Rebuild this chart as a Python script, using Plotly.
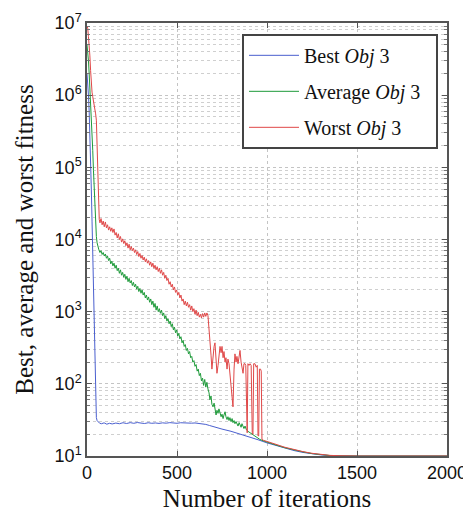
import plotly.graph_objects as go

# ---------------- data ----------------
best_it = [0, 4, 8, 12, 16, 20, 24, 28, 32, 36, 40, 44, 48, 52, 56, 62, 70, 80, 95, 110, 125, 140, 160, 180, 200,
           220, 240, 260, 280, 300, 320, 340, 360, 380, 400, 420, 440, 460, 480, 500, 520, 540, 560, 580, 600,
           620, 640, 660, 680, 700, 750, 800, 850, 900, 950, 1000, 1050, 1100, 1150, 1200, 1250, 1300, 1350,
           1400, 1500, 2000]
best_val = [2.0e6, 1.5e6, 1.0e6, 6.0e5, 3.0e5, 1.2e5, 5.0e4, 1.8e4, 6.0e3, 1.8e3, 5.0e2, 1.2e2, 4.8e1, 3.4e1,
            3.1e1, 3.0e1, 2.85e1, 2.8e1, 2.88e1, 2.76e1, 2.84e1, 2.78e1, 2.86e1, 2.8e1, 2.89e1,
            2.82e1, 2.9e1, 2.84e1, 2.91e1, 2.86e1, 2.82e1, 2.89e1, 2.84e1, 2.87e1, 2.83e1, 2.88e1, 2.85e1,
            2.9e1, 2.86e1, 2.84e1, 2.89e1, 2.86e1, 2.88e1, 2.85e1, 2.87e1,
            2.84e1, 2.8e1, 2.74e1, 2.65e1, 2.55e1, 2.36e1, 2.2e1, 2.02e1, 1.85e1, 1.68e1, 1.52e1, 1.39e1,
            1.28e1, 1.19e1, 1.12e1, 1.07e1, 1.035e1, 1.012e1, 1.004e1, 1.0e1, 1.0e1]

avg_it = [0, 4, 8, 12, 16, 20, 24, 28, 32, 36, 40, 44, 48, 52, 56, 60, 66, 72, 78, 84, 90, 96, 102, 108, 114,
          120, 126, 132, 138, 144, 150, 156, 162, 168, 174, 180, 186, 192, 198, 204, 210, 216, 222, 228, 234,
          240, 246, 252, 258, 264, 270, 276, 282, 288, 294, 300, 306, 312, 318, 324, 330, 336, 342, 348, 354,
          360, 366, 372, 378, 384, 390, 396, 402, 408, 414, 420, 426, 432, 438, 444, 450, 456, 462, 468, 474,
          480, 486, 492, 498, 504, 510, 516, 522, 528, 534, 540, 546, 552, 558, 564, 570, 576, 582, 588, 594,
          600, 606, 612, 618, 624, 630, 636, 642, 648, 654, 660, 666, 672, 678, 683, 689, 694, 700, 706, 711,
          717, 722, 728, 733, 739, 745, 750, 756, 761, 767, 772, 778, 783, 789, 794, 800, 806, 811, 817, 822,
          828, 833, 839, 845, 850, 856, 861, 867, 872, 878, 886, 894, 900, 906, 920, 940, 960, 980, 1000,
          1050, 1100, 1150, 1200, 1250, 1300, 1350, 1400, 1500, 2000]
avg_val = [5.0e6, 4.2e6, 3.0e6, 2.0e6, 1.3e6, 8.0e5, 5.0e5, 3.0e5, 1.7e5, 9.0e4, 5.0e4, 2.8e4, 1.6e4, 1.1e4,
           9.0e3, 8.0e3, 7.2e3, 6.6e3, 7.0e3, 6.2e3, 6.6e3, 5.9e3, 6.3e3, 5.5e3, 5.9e3,
           5.1e3, 5.5e3, 4.6e3, 5.0e3, 4.3e3, 4.7e3, 4.0e3, 4.4e3, 3.7e3, 4.0e3, 3.4e3, 3.8e3, 3.2e3, 3.5e3,
           3.0e3, 3.3e3, 2.8e3, 3.1e3, 2.6e3, 2.9e3,
           2.5e3, 2.7e3, 2.3e3, 2.55e3, 2.2e3, 2.4e3, 2.05e3, 2.25e3, 1.9e3, 2.1e3, 1.8e3, 2.0e3, 1.7e3,
           1.85e3, 1.55e3, 1.7e3, 1.45e3, 1.6e3, 1.35e3, 1.5e3,
           1.25e3, 1.4e3, 1.15e3, 1.3e3, 1.05e3, 1.2e3, 1.0e3, 1.1e3, 9.5e2, 1.05e3, 8.8e2, 9.6e2, 8.0e2,
           8.8e2, 7.4e2, 8.0e2, 6.8e2, 7.4e2, 6.2e2, 6.8e2,
           5.6e2, 6.1e2, 5.1e2, 5.6e2, 4.6e2, 5.0e2, 4.2e2, 4.5e2, 3.7e2, 4.0e2, 3.3e2, 3.5e2, 2.9e2, 3.1e2,
           2.6e2, 2.8e2, 2.3e2, 2.4e2, 2.0e2, 2.1e2,
           1.75e2, 1.85e2, 1.5e2, 1.6e2, 1.3e2, 1.4e2, 1.1e2, 1.2e2, 9.5e1, 1.15e2, 9.0e1, 1.05e2, 8.5e1,
           7.5e1, 6.0e1, 6.8e1, 5.2e1, 4.8e1, 5.4e1, 4.2e1,
           3.7e1, 4.3e1, 3.9e1, 4.5e1, 4.0e1, 3.5e1, 3.8e1, 3.3e1, 3.7e1, 4.1e1, 3.5e1, 3.2e1, 3.5e1, 3.1e1,
           3.4e1, 3.0e1, 3.3e1, 2.9e1, 3.1e1, 2.8e1,
           3.0e1, 2.7e1, 2.6e1, 2.9e1, 2.6e1, 2.5e1, 2.8e1, 2.5e1, 2.4e1, 2.6e1, 2.3e1, 2.2e1, 2.15e1, 2.1e1,
           1.98e1, 1.83e1, 1.7e1, 1.62e1, 1.55e1,
           1.42e1, 1.3e1, 1.21e1, 1.14e1, 1.08e1, 1.04e1, 1.015e1, 1.005e1, 1.0e1, 1.0e1]

worst_it = [0, 4, 8, 12, 16, 20, 24, 28, 32, 36, 40, 44, 48, 52, 56, 60, 64, 68, 72, 78, 84, 90, 96, 102, 108,
            114, 120, 126, 132, 138, 144, 150, 156, 162, 168, 174, 180, 186, 192, 198, 204, 210, 216, 222, 228,
            234, 240, 246, 252, 258, 264, 270, 276, 282, 288, 294, 300, 306, 312, 318, 324, 330, 336, 342, 348,
            354, 360, 366, 372, 378, 384, 390, 396, 402, 408, 414, 420, 426, 432, 438, 444, 450, 456, 462, 468,
            474, 480, 486, 492, 498, 504, 510, 516, 522, 528, 534, 540, 546, 552, 558, 564, 570, 576, 582, 588,
            594, 600, 606, 612, 618, 624, 630, 636, 642, 648, 654, 660, 666, 672, 678, 683, 689, 694, 700, 706,
            711, 717, 722, 728, 733, 739, 745, 750, 756, 761, 767, 772, 778, 783, 789, 794, 800, 806, 811, 817,
            822, 828, 833, 839, 845, 850, 856, 861, 867, 872, 878, 882, 886, 890, 894, 900, 906, 912, 918, 922,
            926, 933, 940, 946, 950, 954, 958, 964, 968, 972, 980, 1000, 1050, 1100, 1150, 1200, 1250, 1300,
            1350, 1400, 1500, 2000]
worst_val = [9.0e6, 8.5e6, 6.5e6, 5.0e6, 3.5e6, 2.2e6, 1.3e6, 1.1e6, 9.5e5, 8.5e5, 7.5e5, 6.5e5, 5.5e5, 4.5e5,
             2.0e5, 6.0e4, 2.5e4, 1.9e4, 1.7e4, 1.95e4, 1.6e4, 1.8e4, 1.5e4, 1.75e4, 1.45e4,
             1.6e4, 1.35e4, 1.5e4, 1.3e4, 1.45e4, 1.25e4, 1.4e4, 1.15e4, 1.25e4, 1.05e4, 1.2e4, 1.0e4, 1.1e4,
             9.2e3, 1.02e4, 8.8e3, 9.6e3, 8.2e3, 9.0e3, 7.6e3,
             8.6e3, 7.2e3, 8.0e3, 7.0e3, 7.6e3, 6.6e3, 7.2e3, 6.2e3, 6.8e3, 5.8e3, 6.4e3, 5.5e3, 6.0e3, 5.2e3,
             5.7e3, 4.9e3, 5.4e3, 4.7e3, 5.1e3, 4.4e3,
             4.9e3, 4.2e3, 4.7e3, 4.0e3, 4.4e3, 3.8e3, 4.2e3, 3.6e3, 4.0e3, 3.4e3, 3.8e3, 3.2e3, 3.5e3, 2.9e3,
             3.2e3, 2.7e3, 2.9e3, 2.4e3, 2.6e3, 2.2e3,
             2.4e3, 2.0e3, 2.2e3, 1.85e3, 2.0e3, 1.7e3, 1.85e3, 1.55e3, 1.7e3, 1.4e3, 1.5e3, 1.25e3, 1.4e3,
             1.2e3, 1.35e3, 1.15e3, 1.25e3, 1.05e3, 1.2e3, 1.0e3,
             1.1e3, 9.2e2, 1.05e3, 8.8e2, 9.8e2, 8.4e2, 9.2e2, 8.2e2, 9.4e2, 8.4e2, 9.6e2, 8.6e2, 9.6e2, 8.8e2,
             6.0e2, 3.7e2, 2.5e2, 1.6e2, 2.6e2, 3.3e2,
             3.7e2, 2.2e2, 1.4e2, 1.8e2, 2.6e2, 3.3e2, 2.7e2, 3.3e2, 2.3e2, 2.8e2, 2.0e2, 2.3e2, 1.6e2, 2.2e2,
             1.9e2, 1.4e2, 1.07e2, 7.0e1, 4.8e1, 1.6e2,
             2.6e2, 2.0e2, 2.4e2, 1.9e2, 2.4e2, 2.9e2, 2.0e2, 1.6e2, 1.4e2, 1.9e2, 1.9e2, 1.8e2, 2.1e1, 2.1e1,
             1.9e2, 1.8e2, 1.9e2, 1.8e2, 2.1e1, 2.0e1,
             1.9e2, 1.9e2, 1.7e2, 1.8e2, 1.9e1, 1.9e1, 1.6e2, 1.6e2, 1.5e2, 1.7e1, 1.65e1, 1.58e1, 1.45e1,
             1.32e1, 1.22e1, 1.15e1, 1.09e1, 1.05e1,
             1.02e1, 1.01e1, 1.0e1, 1.0e1]

x_ticks = [0, 500, 1000, 1500, 2000]
y_ticks = [1e1, 1e2, 1e3, 1e4, 1e5, 1e6, 1e7]
y_ticktext = ["10<sup>1</sup>", "10<sup>2</sup>", "10<sup>3</sup>", "10<sup>4</sup>",
              "10<sup>5</sup>", "10<sup>6</sup>", "10<sup>7</sup>"]
names = ["Best <i>Obj</i> 3", "Average <i>Obj</i> 3", "Worst <i>Obj</i> 3"]

# ---------------- figure ----------------
fig = go.Figure()
pad = "\u00a0\u00a0"
series = [
    (names[0], best_it, best_val, "#4a5fcf", "a"),
    (names[1], avg_it, avg_val, "#1e9a3a", "b"),
    (names[2], worst_it, worst_val, "#e04848", "c"),
]
for name, xs, ys, col, grp in series:
    fig.add_trace(go.Scatter(x=xs, y=ys, mode="lines", name=name + pad, legendgroup=grp,
                             line=dict(color=col, width=1)))

grid = dict(gridcolor="#c4c4c4", griddash="dot", gridwidth=1)
tickfont = dict(family="Liberation Sans, Arial, sans-serif", size=18, color="#111")
titlefont = dict(family="Liberation Serif, Times New Roman, serif", size=25, color="#111")

# the page body has an 8px default margin, so the figure is 8px smaller and margins compensate
fig.update_layout(
    width=463, height=508,
    margin=dict(l=79, r=24, t=15, b=60),
    paper_bgcolor="white", plot_bgcolor="white",
    showlegend=True,
    legend=dict(x=0.975, y=0.975, xanchor="right", yanchor="top",
                bgcolor="white", bordercolor="#444", borderwidth=2,
                font=dict(family="Liberation Serif, Times New Roman, serif", size=20, color="#111"),
                tracegroupgap=7, itemwidth=50),
    xaxis=dict(range=[0, 2000], tickvals=x_ticks, ticktext=[str(v) for v in x_ticks],
               automargin=False,
               showgrid=True, **grid, zeroline=False,
               showline=True, linecolor="#555", linewidth=1.5, mirror="ticks",
               ticks="inside", ticklen=5, tickcolor="#555", tickfont=tickfont,
               title=dict(text="Number of iterations", font=titlefont, standoff=7)),
    yaxis=dict(type="log", range=[1, 7], tickvals=y_ticks, ticktext=y_ticktext,
               automargin=False,
               showgrid=True, **grid, zeroline=False,
               showline=True, linecolor="#555", linewidth=1.5, mirror="ticks",
               ticks="inside", ticklen=5, tickcolor="#555", tickfont=tickfont,
               minor=dict(dtick="D1", showgrid=True, gridcolor="#cfcfcf", griddash="dot",
                          ticks="inside", ticklen=3, tickcolor="#777"),
               title=dict(text="Best, average and worst fitness", font=titlefont, standoff=14)),
)

fig.write_html("out.html")
